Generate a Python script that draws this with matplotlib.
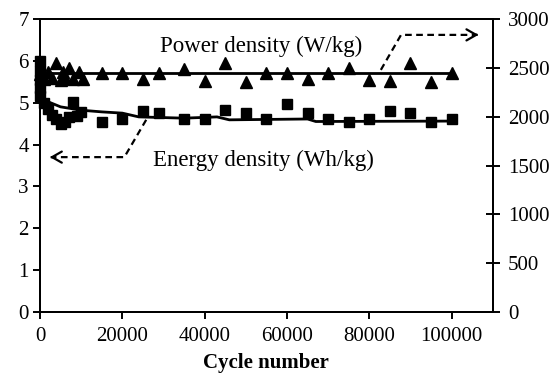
import matplotlib
matplotlib.use("Agg")
import matplotlib.pyplot as plt

plt.rcParams['font.family'] = ['Liberation Serif', 'DejaVu Serif']

##############################################################################################
# data

# energy density (Wh/kg), left axis, square markers
energy_cycles = [0, 0, 0, 0, 0, 1000, 2000, 3000, 4000, 5000, 6000, 7000, 8000, 9000, 10000,
                 15000, 20000, 25000, 29000, 35000, 40000, 45000, 50000, 55000, 60000,
                 65000, 70000, 75000, 80000, 85000, 90000, 95000, 100000]
energy_values = [6.0, 5.75, 5.55, 5.35, 5.15, 5.0, 4.85, 4.7, 4.6, 4.5, 4.55, 4.65, 5.02, 4.68, 4.78,
                 4.54, 4.61, 4.80, 4.75, 4.61, 4.61, 4.83, 4.75, 4.61, 4.97,
                 4.75, 4.61, 4.54, 4.61, 4.80, 4.75, 4.54, 4.61]
energy_trend_cycles = [0, 5000, 10000, 15000, 20000, 24000, 35000, 43000, 46000, 65000, 67000, 100000]
energy_trend_values = [5.1, 4.9, 4.82, 4.78, 4.75, 4.66, 4.63, 4.66, 4.59, 4.61, 4.55, 4.56]

# power density (W/kg), right axis, triangle markers
power_cycles = [0, 1000, 2000, 3000, 4000, 5000, 5500, 6000, 7000, 8000, 9500, 10500,
                15000, 20000, 25000, 29000, 35000, 40000, 45000, 50000, 55000, 60000,
                65000, 70000, 75000, 80000, 85000, 90000, 95000, 100000]
power_values = [2440, 2380, 2460, 2390, 2550, 2370, 2460, 2390, 2500, 2380, 2455, 2380,
                2447, 2447, 2386, 2447, 2488, 2365, 2549, 2355, 2447, 2447,
                2386, 2447, 2498, 2375, 2360, 2549, 2355, 2447]
power_trend_cycles = [0, 100000]
power_trend_values = [2445, 2445]

x_ticks = [0, 20000, 40000, 60000, 80000, 100000]
left_ticks = [0, 1, 2, 3, 4, 5, 6, 7]
right_ticks = [0, 500, 1000, 1500, 2000, 2500, 3000]

##############################################################################################

fig = plt.figure(figsize=(5.55, 3.77), dpi=100)
ax = fig.add_axes([0.072, 0.172, 0.816, 0.778])
ax2 = ax.twinx()

ax.plot(energy_trend_cycles, energy_trend_values, color='black', lw=2)
ax.plot(energy_cycles, energy_values, 's', color='black', ms=7, clip_on=False)
ax2.plot(power_trend_cycles, power_trend_values, color='black', lw=2)
ax2.plot(power_cycles, power_values, '^', color='black', ms=8.5, clip_on=False)

ax.set_xlim(0, 110000)
ax.set_ylim(0, 7)
ax2.set_ylim(0, 3000)
ax.set_xticks(x_ticks)
ax.set_yticks(left_ticks)
ax2.set_yticks(right_ticks)

for a in (ax, ax2):
    for s in a.spines.values():
        s.set_linewidth(1.4)
ax.tick_params(axis='both', direction='out', length=5, width=1.4, labelsize=15, pad=3)
ax.tick_params(axis='x', pad=6)
ax2.tick_params(axis='y', direction='inout', length=10, width=1.4, labelsize=15, pad=6)

ax.set_xlabel("Cycle number", fontsize=15, fontweight='bold', labelpad=5)

# annotations
ax.text(53600, 6.35, "Power density (W/kg)", fontsize=16.5, ha='center', va='center')
ax.text(54300, 3.63, "Energy density (Wh/kg)", fontsize=16.5, ha='center', va='center')

arrow_kw = dict(arrowstyle='->,head_length=0.7,head_width=0.4', color='black', lw=1.6,
                shrinkA=0, shrinkB=0)
ax.plot([25800, 20500, 2600], [4.59, 3.70, 3.70], ls=(0, (3, 2)), color='black', lw=1.6)
ax.annotate('', xy=(2400, 3.70), xytext=(3400, 3.70), arrowprops=arrow_kw)
ax2.plot([82800, 87700, 106300], [2478, 2836, 2836], ls=(0, (3, 2)), color='black', lw=1.6)
ax2.annotate('', xy=(106500, 2836), xytext=(105500, 2836), arrowprops=arrow_kw)

fig.savefig("out.png", dpi=100)
